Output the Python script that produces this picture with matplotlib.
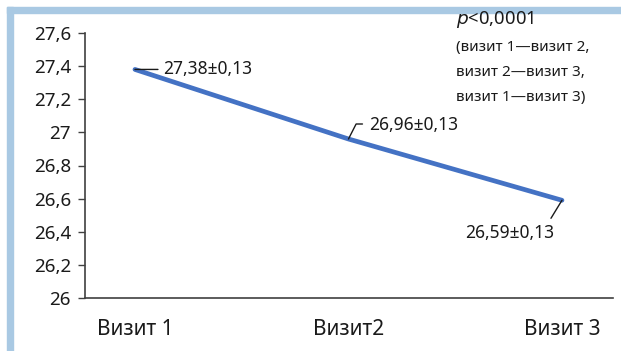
import matplotlib
matplotlib.use("Agg")
import matplotlib.pyplot as plt
from matplotlib.patches import Rectangle

plt.rcParams['font.family'] = ['Noto Sans', 'DejaVu Sans']

categories = ["Визит 1", "Визит2", "Визит 3"]
values = [27.38, 26.96, 26.59]
labels = ["27,38±0,13", "26,96±0,13", "26,59±0,13"]
yticks = [26.0, 26.2, 26.4, 26.6, 26.8, 27.0, 27.2, 27.4, 27.6]
ytick_labels = ["26", "26,2", "26,4", "26,6", "26,8", "27", "27,2", "27,4", "27,6"]

W, H = 621, 351
fig = plt.figure(figsize=(W / 100, H / 100), dpi=100)
fig.patch.set_facecolor("white")

# light blue frame (top and left visible)
border = "#A9C9E3"
fig.patches.append(Rectangle((7 / W, 0), 6 / W, (H - 7) / H, transform=fig.transFigure,
                             color=border, zorder=0))
fig.patches.append(Rectangle((7 / W, (H - 13) / H), (W - 7) / W, 6 / H, transform=fig.transFigure,
                             color=border, zorder=0))

ax = fig.add_axes([85 / W, 1 - 298 / H, (613 - 85) / W, (298 - 33) / H])
x = list(range(len(categories)))
line_color = "#4472C4"
ax.plot(x, values, color=line_color, lw=3.4, solid_capstyle="round", zorder=3)

ax.set_ylim(26.0, 27.6)
ax.set_xlim(-0.234, 2.239)
ax.set_yticks(yticks)
ax.set_yticklabels(ytick_labels, fontsize=13.5, color="#1a1a1a")
ax.set_xticks(x)
ax.set_xticklabels(categories, fontsize=15, color="#1a1a1a")
ax.tick_params(axis="x", length=0, pad=15)
ax.tick_params(axis="y", length=5, width=1, color="#404040", pad=5, direction="out")
for s in ["top", "right"]:
    ax.spines[s].set_visible(False)
for s in ["left", "bottom"]:
    ax.spines[s].set_color("#404040")
    ax.spines[s].set_linewidth(1.2)

lc = "#1a1a1a"
ap = dict(arrowstyle="-", color=lc, lw=1, shrinkA=0, shrinkB=0)
# label 1
ax.annotate("", xy=(x[0], values[0]), xytext=(23, 0), textcoords="offset pixels",
            arrowprops=ap)
ax.annotate(labels[0], xy=(x[0], values[0]), xytext=(28, 0), textcoords="offset pixels",
            ha="left", va="center", fontsize=12.5, color=lc)
# label 2
ap2 = dict(ap, connectionstyle="angle,angleA=0,angleB=63,rad=0")
ax.annotate("", xy=(x[1], values[1]), xytext=(14, 15), textcoords="offset pixels",
            arrowprops=ap2)
ax.annotate(labels[1], xy=(x[1], values[1]), xytext=(21, 14), textcoords="offset pixels",
            ha="left", va="center", fontsize=12.5, color=lc)
# label 3
ax.annotate("", xy=(x[2], values[2]), xytext=(-11, -18), textcoords="offset pixels",
            arrowprops=ap)
ax.annotate(labels[2], xy=(x[2], values[2]), xytext=(-52, -33), textcoords="offset pixels",
            ha="center", va="center", fontsize=12.5, color=lc)

# p-value note
fig.text(456 / W, 1 - 20 / H, r"$\it{p}$" + "<0,0001", fontsize=13.3, color=lc,
         ha="left", va="center")
note_lines = ["(визит 1—визит 2,", "визит 2—визит 3,", "визит 1—визит 3)"]
for i, t in enumerate(note_lines):
    fig.text(456 / W, 1 - (48 + 24.5 * i) / H, t, fontsize=11, color=lc,
             ha="left", va="center")

fig.savefig("out.png", dpi=100, facecolor="white")
